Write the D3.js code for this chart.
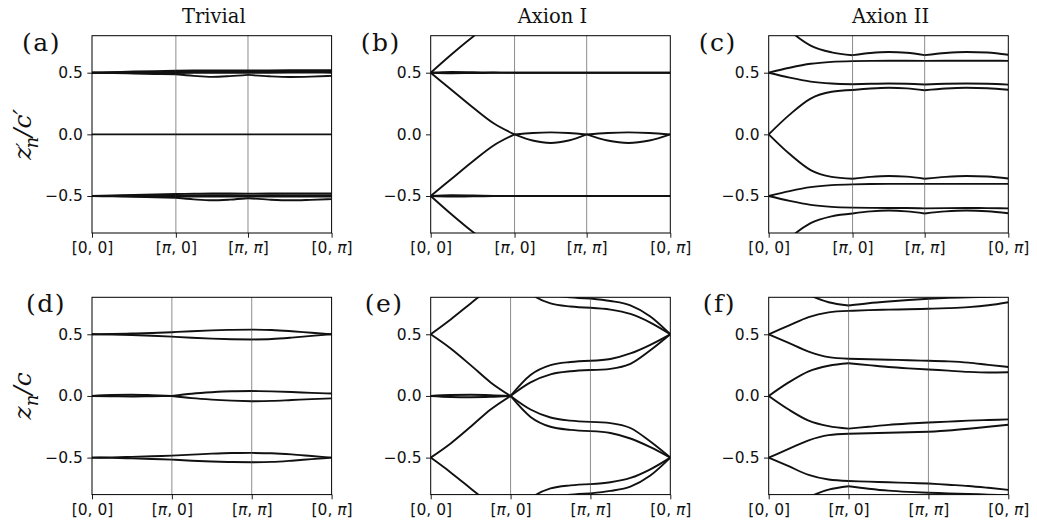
<!DOCTYPE html>
<html>
<head>
<meta charset="utf-8">
<script src="https://cdn.jsdelivr.net/npm/d3@7"></script>
<style>
  body { margin: 0; background: #fff; }
  svg { display: block; }
</style>
</head>
<body>
<div id="chart"></div>
<script>
// path through the BZ: [0,0] -> [pi,0] -> [pi,pi] -> [0,pi], sampled every quarter segment
const kLabels = ["[0, 0]", "[π, 0]", "[π, π]", "[0, π]"];
const kTicks = [0, 1, 2, 3];
const kSteps = [0, 0.25, 0.5, 0.75, 1, 1.25, 1.5, 1.75, 2, 2.25, 2.5, 2.75, 3];
const yTicks = [-0.5, 0, 0.5];
const columnTitles = ["Trivial", "Axion I", "Axion II"];
const panelTags = ["(a)", "(b)", "(c)", "(d)", "(e)", "(f)"];

// z'_n / c'  (top row)
const trivialPrime = [
  [0.5, 0.505, 0.51, 0.513, 0.516, 0.518, 0.519, 0.519, 0.518, 0.519, 0.52, 0.52, 0.52],
  [0.5, 0.501, 0.503, 0.505, 0.507, 0.508, 0.508, 0.508, 0.508, 0.508, 0.509, 0.509, 0.51],
  [0.5, 0.499, 0.498, 0.497, 0.497, 0.499, 0.5, 0.5, 0.499, 0.5, 0.501, 0.501, 0.5],
  [0.5, 0.497, 0.494, 0.49, 0.487, 0.474, 0.466, 0.472, 0.482, 0.471, 0.465, 0.468, 0.474],
  [0, 0, 0, 0, 0, 0, 0, 0, 0, 0, 0, 0, 0],
  [-0.5, -0.496, -0.492, -0.488, -0.484, -0.482, -0.48, -0.48, -0.481, -0.48, -0.479, -0.479, -0.479],
  [-0.5, -0.499, -0.498, -0.497, -0.496, -0.495, -0.494, -0.494, -0.495, -0.494, -0.493, -0.493, -0.493],
  [-0.5, -0.501, -0.502, -0.503, -0.504, -0.505, -0.505, -0.505, -0.505, -0.505, -0.505, -0.505, -0.505],
  [-0.5, -0.503, -0.506, -0.51, -0.514, -0.527, -0.535, -0.529, -0.518, -0.529, -0.535, -0.531, -0.525]
];
const axion1Prime = [
  [0.5, 0.65, 0.79, 0.91, 1.0, null, null, null, null, null, null, null, null],
  [0.5, 0.36, 0.22, 0.09, 0, 0.011, 0.016, 0.011, 0, 0.011, 0.016, 0.011, 0],
  [-0.5, -0.36, -0.22, -0.09, 0, -0.05, -0.07, -0.05, 0, -0.05, -0.07, -0.05, 0],
  [-0.5, -0.65, -0.79, -0.91, -1.0, null, null, null, null, null, null, null, null],
  [0.5, 0.506, 0.504, 0.501, 0.5, 0.5, 0.5, 0.5, 0.5, 0.5, 0.5, 0.5, 0.5],
  [0.5, 0.496, 0.497, 0.499, 0.5, 0.5, 0.5, 0.5, 0.5, 0.5, 0.5, 0.5, 0.5],
  [-0.5, -0.494, -0.496, -0.499, -0.5, -0.5, -0.5, -0.5, -0.5, -0.5, -0.5, -0.5, -0.5],
  [-0.5, -0.504, -0.503, -0.501, -0.5, -0.5, -0.5, -0.5, -0.5, -0.5, -0.5, -0.5, -0.5]
];
const axion2Prime = [
  [1.0, 0.84, 0.72, 0.665, 0.642, 0.66, 0.668, 0.662, 0.642, 0.66, 0.668, 0.664, 0.645],
  [0.5, 0.54, 0.572, 0.588, 0.594, 0.596, 0.597, 0.597, 0.596, 0.597, 0.597, 0.597, 0.596],
  [0.5, 0.46, 0.428, 0.412, 0.406, 0.41, 0.412, 0.41, 0.404, 0.41, 0.412, 0.41, 0.403],
  [0, 0.16, 0.29, 0.345, 0.36, 0.372, 0.378, 0.373, 0.358, 0.372, 0.378, 0.374, 0.362],
  [0, -0.16, -0.29, -0.345, -0.36, -0.345, -0.338, -0.343, -0.36, -0.345, -0.338, -0.342, -0.358],
  [-0.5, -0.46, -0.428, -0.412, -0.406, -0.403, -0.402, -0.402, -0.402, -0.402, -0.402, -0.402, -0.402],
  [-0.5, -0.54, -0.572, -0.588, -0.594, -0.596, -0.597, -0.597, -0.6, -0.598, -0.597, -0.598, -0.6],
  [-1.0, -0.84, -0.72, -0.665, -0.642, -0.625, -0.618, -0.625, -0.642, -0.625, -0.618, -0.624, -0.64]
];

// z_n / c  (bottom row)
const trivialZ = [
  [0.5, 0.502, 0.506, 0.511, 0.517, 0.525, 0.532, 0.536, 0.538, 0.535, 0.525, 0.512, 0.5],
  [0.5, 0.498, 0.494, 0.488, 0.481, 0.472, 0.465, 0.46, 0.458, 0.462, 0.473, 0.487, 0.5],
  [0, 0.008, 0.01, 0.006, 0, 0.018, 0.03, 0.038, 0.04, 0.037, 0.032, 0.025, 0.02],
  [0, -0.003, -0.004, -0.002, 0, -0.018, -0.03, -0.038, -0.043, -0.04, -0.033, -0.026, -0.02],
  [-0.5, -0.498, -0.494, -0.489, -0.484, -0.476, -0.468, -0.463, -0.462, -0.465, -0.474, -0.487, -0.5],
  [-0.5, -0.502, -0.506, -0.511, -0.516, -0.525, -0.532, -0.536, -0.538, -0.535, -0.525, -0.512, -0.5]
];
const axion1Z = [
  [0.5, 0.62, 0.75, 0.88, 1.0, 0.83, 0.75, 0.725, 0.715, 0.70, 0.665, 0.595, 0.5],
  [0.5, 0.385, 0.25, 0.11, 0, 0.17, 0.25, 0.275, 0.285, 0.30, 0.345, 0.415, 0.5],
  [0, 0.008, 0.01, 0.007, 0, 0.11, 0.175, 0.2, 0.21, 0.22, 0.26, 0.37, 0.5],
  [0, -0.008, -0.01, -0.007, 0, -0.11, -0.175, -0.2, -0.21, -0.22, -0.26, -0.37, -0.5],
  [-0.5, -0.385, -0.25, -0.11, 0, -0.17, -0.25, -0.275, -0.285, -0.30, -0.345, -0.415, -0.5],
  [-0.5, -0.62, -0.75, -0.88, -1.0, -0.83, -0.75, -0.725, -0.715, -0.70, -0.665, -0.595, -0.5],
  [null, null, null, null, 1.0, 0.89, 0.825, 0.8, 0.79, 0.77, 0.735, 0.645, 0.5],
  [null, null, null, null, -1.0, -0.89, -0.825, -0.8, -0.79, -0.77, -0.735, -0.645, -0.5]
];
const axion2Z = [
  [1.0, 0.9, 0.82, 0.76, 0.734, 0.752, 0.766, 0.778, 0.788, 0.795, 0.8, 0.805, 0.81],
  [0.5, 0.57, 0.64, 0.678, 0.69, 0.696, 0.7, 0.703, 0.707, 0.712, 0.72, 0.735, 0.76],
  [0.5, 0.43, 0.36, 0.315, 0.302, 0.298, 0.294, 0.29, 0.285, 0.28, 0.27, 0.252, 0.235],
  [0, 0.11, 0.2, 0.245, 0.265, 0.25, 0.235, 0.224, 0.215, 0.205, 0.195, 0.19, 0.192],
  [0, -0.11, -0.2, -0.245, -0.265, -0.25, -0.235, -0.224, -0.215, -0.208, -0.2, -0.195, -0.19],
  [-0.5, -0.43, -0.36, -0.318, -0.306, -0.302, -0.298, -0.294, -0.29, -0.28, -0.266, -0.25, -0.234],
  [-0.5, -0.57, -0.64, -0.678, -0.69, -0.695, -0.7, -0.705, -0.71, -0.72, -0.73, -0.745, -0.762],
  [-1.0, -0.9, -0.82, -0.76, -0.732, -0.752, -0.768, -0.778, -0.785, -0.79, -0.795, -0.8, -0.805]
];

const panels = [trivialPrime, axion1Prime, axion2Prime, trivialZ, axion1Z, axion2Z];

// layout
const width = 1037, height = 523;
const colLeft = [92, 430.7, 768.7];
const rowTop = [35.7, 297.3];
const panelW = 239.6, panelH = 197.3;
// top row uses a non-square k-path, bottom row equal segments
const kBreaks = [[0, 0.35, 0.651, 1], [0, 1 / 3, 2 / 3, 1]];

const svg = d3.select("#chart")
  .append("svg")
    .attr("width", width)
    .attr("height", height);

const sans = "'DejaVu Sans', sans-serif";
const serif = "'DejaVu Serif', serif";

// column titles
columnTitles.forEach((t, c) => {
  svg.append("text")
    .attr("x", colLeft[c] + panelW / 2 + 2)
    .attr("y", 23)
    .attr("text-anchor", "middle")
    .style("font-family", serif)
    .style("font-size", "19.5px")
    .style("fill", "#111")
    .text(t);
});

panels.forEach((bands, i) => {
  const row = i < 3 ? 0 : 1, col = i % 3;
  const left = colLeft[col], top = rowTop[row];

  const x = d3.scaleLinear()
    .domain(kTicks)
    .range(kBreaks[row].map(f => left + f * panelW));
  const y = d3.scaleLinear()
    .domain([-0.8, 0.8])
    .range([top + panelH, top]);

  const g = svg.append("g");

  g.append("clipPath")
    .attr("id", "clip" + i)
    .append("rect")
      .attr("x", left)
      .attr("y", top)
      .attr("width", panelW)
      .attr("height", panelH);

  // vertical lines at the high-symmetry points
  g.selectAll("line.grid")
    .data(kTicks.slice(1, 3))
    .enter()
    .append("line")
      .attr("class", "grid")
      .attr("x1", d => x(d))
      .attr("x2", d => x(d))
      .attr("y1", top)
      .attr("y2", top + panelH)
      .style("stroke", "#808080")
      .style("stroke-width", 0.9);

  const line = d3.line()
    .x(d => x(d[0]))
    .y(d => y(d[1]))
    .curve(d3.curveMonotoneX);

  const curves = g.append("g").attr("clip-path", `url(#clip${i})`);
  bands.forEach(band => {
    // draw each segment on its own so kinks at the corners stay sharp
    for (let s = 0; s < 3; s++) {
      const pts = d3.range(s * 4, s * 4 + 5)
        .map(j => [kSteps[j], band[j]])
        .filter(p => p[1] !== null);
      if (pts.length < 2) continue;
      curves.append("path")
        .attr("d", line(pts))
        .style("fill", "none")
        .style("stroke", "#111")
        .style("stroke-width", 1.9)
        .style("stroke-linejoin", "round");
    }
  });

  // axes
  const xAxis = g.append("g")
    .attr("transform", `translate(0,${top + panelH})`)
    .call(d3.axisBottom(x)
      .tickValues(kTicks)
      .tickSize(4.7)
      .tickPadding(4.5)
      .tickFormat((d, k) => kLabels[k]));
  xAxis.select(".domain").remove();
  xAxis.selectAll(".tick line").style("stroke", "#000").style("stroke-width", 0.9);
  xAxis.selectAll(".tick text")
    .style("font-family", sans)
    .style("font-size", "15.5px")
    .style("fill", "#111")
    .each(function(d, k) {
      const t = d3.select(this);
      const parts = kLabels[k].split(/(π)/);
      t.text(null);
      parts.forEach(p => {
        if (!p) return;
        t.append("tspan")
          .style("font-style", p === "π" ? "italic" : "normal")
          .text(p);
      });
    });

  const yAxis = g.append("g")
    .attr("transform", `translate(${left},0)`)
    .call(d3.axisLeft(y)
      .tickValues(yTicks)
      .tickSize(4.7)
      .tickPadding(4.5)
      .tickFormat(d3.format(".1f")));
  yAxis.select(".domain").remove();
  yAxis.selectAll(".tick line").style("stroke", "#000").style("stroke-width", 0.9);
  yAxis.selectAll(".tick text")
    .style("font-family", sans)
    .style("font-size", "15.5px")
    .style("fill", "#111");

  // frame
  g.append("rect")
    .attr("x", left)
    .attr("y", top)
    .attr("width", panelW)
    .attr("height", panelH)
    .style("fill", "none")
    .style("stroke", "#000")
    .style("stroke-width", 1);

  // panel tag
  g.append("text")
    .attr("x", left - (row === 0 ? 70 : 66))
    .attr("y", top + 15)
    .style("font-family", serif)
    .style("font-size", "25px")
    .style("letter-spacing", "1.5px")
    .style("fill", "#111")
    .text(panelTags[i]);
});

// y-axis labels
function yLabel(cy, primed) {
  const t = svg.append("text")
    .attr("transform", `translate(31,${cy}) rotate(-90)`)
    .attr("text-anchor", "middle")
    .style("font-family", serif)
    .style("font-style", "italic")
    .style("font-size", "25px")
    .style("fill", "#111");
  t.append("tspan").text("z");
  if (primed) {
    t.append("tspan").attr("dy", -1).style("font-size", "18px").text("′");
    t.append("tspan").attr("dx", -6).attr("dy", 8).style("font-size", "18px").text("n");
    t.append("tspan").attr("dy", -7).text("/c");
    t.append("tspan").text("′");
  } else {
    t.append("tspan").attr("dy", 7).style("font-size", "18px").text("n");
    t.append("tspan").attr("dy", -7).text("/c");
  }
}
yLabel(rowTop[0] + panelH / 2, true);
yLabel(rowTop[1] + panelH / 2, false);
</script>
</body>
</html>
